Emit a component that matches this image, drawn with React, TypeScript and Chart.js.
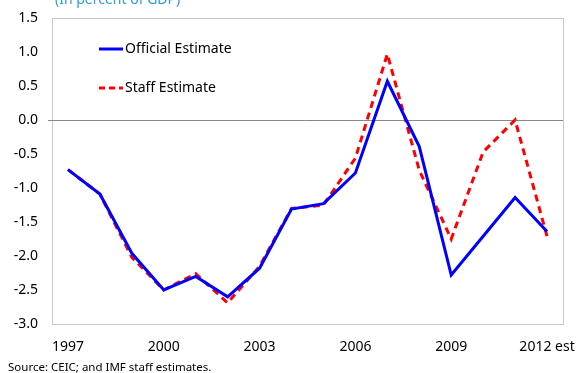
import React, { useEffect, useRef } from "react";
import { Chart, registerables } from "chart.js";

Chart.register(...registerables);

const years = ["1997","1998","1999","2000","2001","2002","2003","2004","2005","2006","2007","2008","2009","2010","2011","2012 est"];
const officialEstimate = [-0.73,-1.09,-1.96,-2.5,-2.3,-2.6,-2.18,-1.31,-1.23,-0.78,0.57,-0.39,-2.28,-1.71,-1.14,-1.64];
const staffEstimate = [-0.73,-1.09,-2.02,-2.5,-2.26,-2.69,-2.15,-1.3,-1.25,-0.56,0.97,-0.74,-1.75,-0.47,0.0,-1.71];
const yTicks = [-3.0,-2.5,-2.0,-1.5,-1.0,-0.5,0.0,0.5,1.0,1.5];
const FONT = "'Noto Sans', sans-serif";

const framePlugin = {
  id: "frame",
  beforeDatasetsDraw(chart: any) {
    const { ctx, chartArea } = chart;
    const { left, right, top, bottom } = chartArea;
    ctx.save();
    ctx.strokeStyle = "#c8c8c8";
    ctx.lineWidth = 1;
    ctx.strokeRect(Math.round(left) + 0.5, Math.round(top) + 0.5, Math.round(right - left), Math.round(bottom - top));
    const y0 = Math.round(chart.scales.y.getPixelForValue(0)) + 0.5;
    ctx.strokeStyle = "#888888";
    ctx.beginPath();
    ctx.moveTo(left - 4, y0);
    ctx.lineTo(right, y0);
    ctx.stroke();
    ctx.restore();
  },
  afterDraw(chart: any) {
    const { ctx } = chart;
    ctx.save();
    ctx.fillStyle = "#2a9fd6";
    ctx.font = `14px ${FONT}`;
    ctx.textBaseline = "alphabetic";
    ctx.textAlign = "left";
    ctx.fillText("(In percent of GDP)", 55, 4);
    const items = [
      { label: "Official Estimate", color: "#0000ff", dash: [] as number[], y: 49 },
      { label: "Staff Estimate", color: "#ff0000", dash: [6, 4], y: 88 },
    ];
    for (const it of items) {
      ctx.strokeStyle = it.color;
      ctx.lineWidth = 3;
      ctx.setLineDash(it.dash);
      ctx.beginPath();
      ctx.moveTo(99, it.y);
      ctx.lineTo(123, it.y);
      ctx.stroke();
      ctx.setLineDash([]);
      ctx.fillStyle = "#000000";
      ctx.font = `14px ${FONT}`;
      ctx.textBaseline = "middle";
      ctx.fillText(it.label, 125, it.y);
    }
    ctx.font = `11.5px ${FONT}`;
    ctx.textBaseline = "alphabetic";
    ctx.fillText("Source: CEIC; and IMF staff estimates.", 8, 371);
    ctx.restore();
  },
};

export default function App() {
  const ref = useRef<HTMLCanvasElement | null>(null);
  useEffect(() => {
    document.body.style.margin = "0";
    const chart = new Chart(ref.current as HTMLCanvasElement, {
      type: "line",
      data: {
        labels: years,
        datasets: [
          {
            label: "Official Estimate",
            data: officialEstimate,
            borderColor: "#0000ff",
            borderWidth: 3,
            pointRadius: 0,
            tension: 0,
            fill: false,
          },
          {
            label: "Staff Estimate",
            data: staffEstimate,
            borderColor: "#ff0000",
            borderWidth: 3,
            borderDash: [7, 5],
            pointRadius: 0,
            tension: 0,
            fill: false,
          },
        ],
      },
      options: {
        animation: false,
        responsive: false,
        maintainAspectRatio: false,
        layout: { padding: { top: 18, right: 13, left: 0, bottom: 0 } },
        plugins: { legend: { display: false }, tooltip: { enabled: false } },
        scales: {
          x: {
            type: "category",
            offset: true,
            grid: { display: false, drawTicks: false },
            border: { display: false },
            afterFit(scale: any) {
              scale.height = 49;
              scale.paddingLeft = 0;
              scale.paddingRight = 0;
            },
            ticks: {
              autoSkip: false,
              maxRotation: 0,
              padding: 15,
              color: "#000",
              font: { family: FONT, size: 14 },
              callback: (_v: any, i: number) => (i % 3 === 0 ? years[i] : ""),
            },
          },
          y: {
            min: -3,
            max: 1.5,
            afterBuildTicks(scale: any) { scale.ticks = yTicks.map((v) => ({ value: v })); },
            afterFit(scale: any) {
              scale.width = 52;
              scale.paddingTop = 0;
              scale.paddingBottom = 0;
            },
            grid: { display: false, drawTicks: false },
            border: { display: false },
            ticks: {
              padding: 14,
              color: "#000",
              font: { family: FONT, size: 14 },
              callback: (v: any) => Number(v).toFixed(1),
            },
          },
        },
      },
      plugins: [framePlugin],
    } as any);
    return () => chart.destroy();
  }, []);
  return (
    <div style={{ position: "fixed", left: 0, top: 0, width: 576, height: 373, background: "#fff" }}>
      <canvas ref={ref} width={576} height={373} />
    </div>
  );
}
